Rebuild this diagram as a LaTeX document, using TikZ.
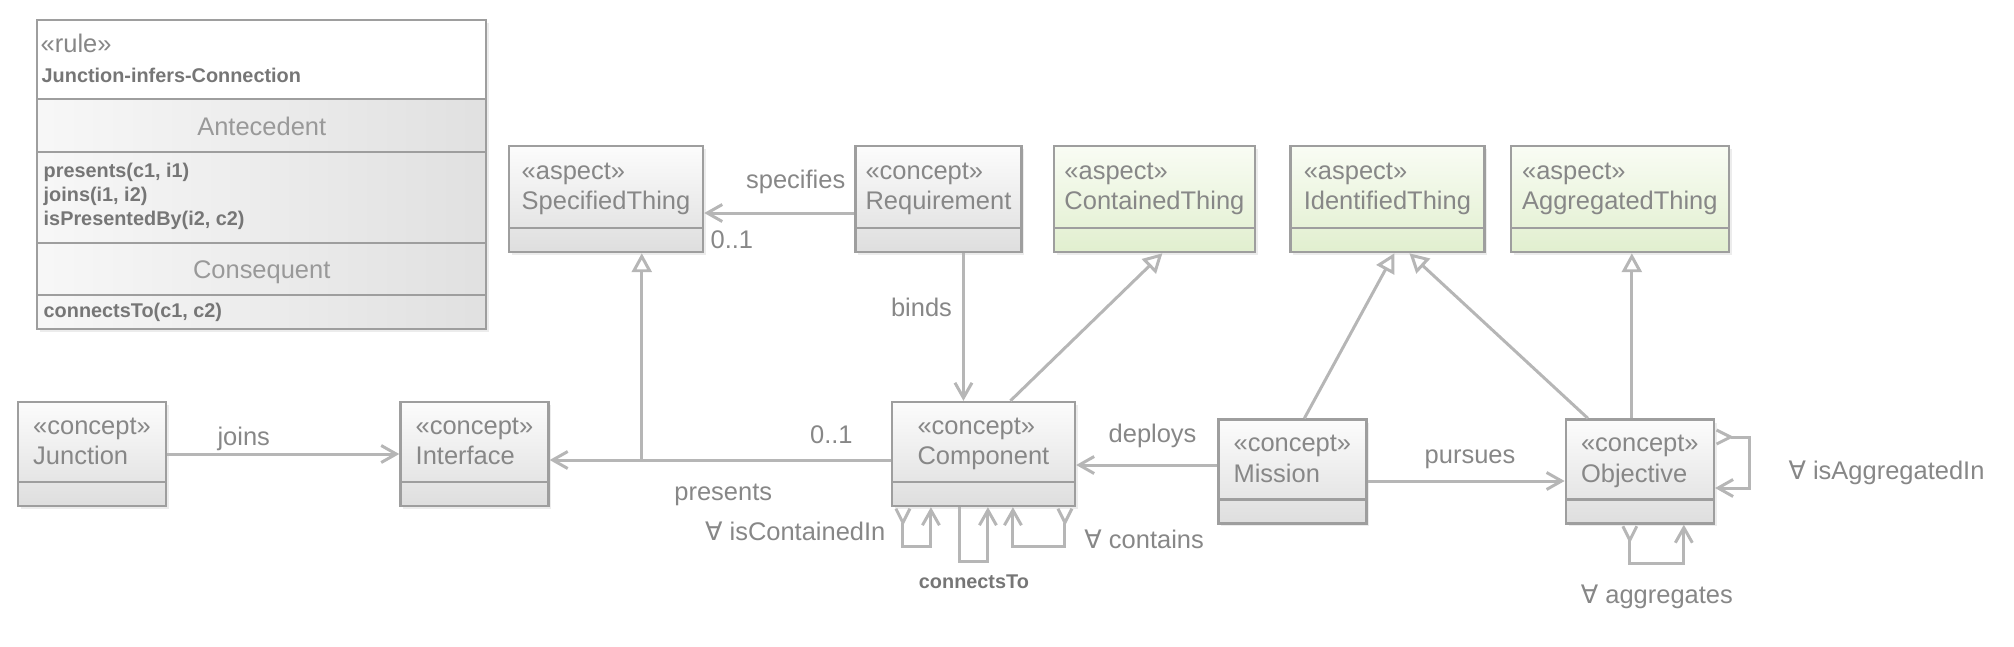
\documentclass[tikz,border=0pt]{standalone}
\usepackage{fontspec}
\setmainfont{Liberation Sans}
\newfontfamily\djvfont{DejaVu Sans}
\usepackage{xcolor}
\usepackage{tikz}
\usetikzlibrary{positioning,arrows.meta,shadows}
\definecolor{lnc}{RGB}{182,182,182}
\definecolor{bdc}{RGB}{158,158,158}
\definecolor{txc}{RGB}{135,135,135}
\definecolor{txd}{RGB}{118,118,118}
\definecolor{grtop}{RGB}{252,252,252}
\definecolor{grbot}{RGB}{222,222,222}
\definecolor{gntop}{RGB}{249,252,244}
\definecolor{gnbot}{RGB}{225,239,207}
\newcommand{\stereo}[2]{\rule{0pt}{0.27cm}«#1»\\#2\rule[-0.36cm]{0pt}{0pt}}
\newcommand{\fasym}{{\djvfont ∀}}
\tikzset{
  cls/.style={draw=bdc, line width=0.7pt, top color=grtop, bottom color=grbot, align=left, text=txc,
    font=\fontsize{7.25}{8.8}\selectfont, inner xsep=0.08cm, inner ysep=0.05cm,
    drop shadow={shadow xshift=0.03cm, shadow yshift=-0.03cm, opacity=0.15},
    path picture={\draw[bdc, line width=0.7pt] ([yshift=0.24cm]path picture bounding box.south west) -- ([yshift=0.24cm]path picture bounding box.south east);}},
  asp/.style={cls, top color=gntop, bottom color=gnbot},
  lbl/.style={font=\fontsize{7.25}{8.8}\selectfont, text=txc, inner sep=0pt},
  blbl/.style={font=\fontsize{5.65}{6.8}\selectfont\bfseries, text=txd, inner sep=0pt},
  assoc/.style={draw=lnc, line width=0.85pt, -{Straight Barb[length=0.15cm, width=0.17cm]}},
  gen/.style={draw=lnc, line width=0.85pt, -{Triangle[open, length=0.19cm, width=0.2cm, fill=white]}},
  selfref/.style={assoc, {Straight Barb[reversed, length=0.14cm, width=0.14cm]}-{Straight Barb[length=0.15cm, width=0.17cm]}},
  sepl/.style={draw=bdc, line width=0.7pt},
}
\begin{document}
\begin{tikzpicture}
  \useasboundingbox (0,0) rectangle (20.14,-6.46);
  % rule table
  \node[draw=bdc, line width=0.7pt, fill=white, anchor=north west, minimum width=4.49cm, minimum height=3.09cm, inner sep=0pt,
    drop shadow={shadow xshift=0.03cm, shadow yshift=-0.03cm, opacity=0.15},
    path picture={\shade[left color=black!3, right color=black!12] ([yshift=-0.8cm]path picture bounding box.north west) rectangle (path picture bounding box.south east);}] (rule) at (0.36,-0.19) {};
  \foreach \yy in {0.80,1.33,2.24,2.76}{\draw[sepl] ([yshift=-\yy cm]rule.north west) -- ([yshift=-\yy cm]rule.north east);}
  \node[lbl, anchor=base west] (rulest) at ([shift={(0.04,-0.33)}]rule.north west) {«rule»};
  \node[blbl, anchor=base west] (rulenm) at ([shift={(0.05,-0.63)}]rule.north west) {Junction-infers-Connection};
  \node[lbl, text=txc!85, anchor=base] (antehd) at ([yshift=-1.16cm]rule.north) {Antecedent};
  \foreach \txt [count=\i] in {{presents(c1, i1)},{joins(i1, i2)},{isPresentedBy(i2, c2)}}
    \node[blbl, anchor=base west] (ante\i) at ([shift={(0.07,-1.34-0.24*\i)}]rule.north west) {\txt};
  \node[lbl, text=txc!85, anchor=base] (conshd) at ([yshift=-2.59cm]rule.north) {Consequent};
  \node[blbl, anchor=base west] (cons1) at ([shift={(0.07,-2.98)}]rule.north west) {connectsTo(c1, c2)};

  % top row
  \node[cls, minimum width=1.94cm, minimum height=1.06cm] (spec) at (6.06,-1.99) {\stereo{aspect}{SpecifiedThing}};
  \node[cls, minimum width=1.66cm, minimum height=1.06cm, right=1.50cm of spec] (req) {\stereo{concept}{Requirement}};
  \node[asp, minimum width=2.01cm, minimum height=1.06cm, right=0.30cm of req] (cont) {\stereo{aspect}{ContainedThing}};
  \node[asp, minimum width=1.94cm, minimum height=1.06cm, right=0.33cm of cont] (ident) {\stereo{aspect}{IdentifiedThing}};
  \node[asp, minimum width=2.18cm, minimum height=1.06cm, right=0.24cm of ident] (aggr) {\stereo{aspect}{AggregatedThing}};

  % bottom row
  \node[cls, minimum width=1.48cm] (jn) at (0.92,-4.54) {\stereo{concept}{Junction}};
  \node[cls, minimum width=1.48cm, right=2.32cm of jn] (itf) {\stereo{concept}{Interface}};
  \node[cls, minimum width=1.83cm, right=3.41cm of itf] (cmp) {\stereo{concept}{Component}};
  \node[cls, minimum width=1.48cm, right=1.41cm of cmp, yshift=-0.175cm] (msn) {\stereo{concept}{Mission}};
  \node[cls, minimum width=1.48cm, right=1.97cm of msn] (obj) {\stereo{concept}{Objective}};

  % associations
  \draw[assoc] (jn) -- (itf) node[lbl, pos=0.33, anchor=base, yshift=0.09cm] (joinslbl) {joins};
  \draw[assoc] ([yshift=-0.14cm]req.west) -- ([yshift=-0.14cm]spec.east)
    node[lbl, pos=0.39, anchor=base, yshift=0.25cm] (speclbl) {specifies}
    node[lbl, pos=0.816, anchor=base, yshift=-0.35cm] (mult1) {0..1};
  \draw[assoc] ([yshift=-0.06cm]cmp.west) -- ([yshift=-0.06cm]itf.east)
    node[lbl, pos=0.174, anchor=base, yshift=0.17cm] (mult2) {0..1}
    node[lbl, pos=0.491, anchor=base, yshift=-0.40cm] (preslbl) {presents}
    coordinate[pos=0.73] (pj);
  \draw[assoc] ([xshift=0.25cm]req.south) -- ([xshift=0.25cm]req.south |- cmp.north)
    node[lbl, pos=0.43, anchor=base east, xshift=-0.1cm] (bindslbl) {binds};
  \draw[assoc] ([yshift=0.065cm]msn.west) -- ([yshift=0.065cm]msn.west -| cmp.east)
    node[lbl, pos=0.458, anchor=base, yshift=0.23cm] (deplbl) {deploys};
  \draw[assoc] ([yshift=-0.095cm]msn.east) -- ([yshift=-0.095cm]msn.east -| obj.west)
    node[lbl, pos=0.52, anchor=base, yshift=0.18cm] (purlbl) {pursues};

  % generalizations
  \draw[gen] (pj) -- (pj |- spec.south);
  \foreach \src/\sx/\dst/\dx in {cmp/0.27/cont/0.08, msn/0.12/ident/0.07, obj/-0.52/ident/0.22}
    \draw[gen] ([xshift=\sx cm]\src.north) -- ([xshift=\dx cm]\dst.south);
  \draw[gen] ([xshift=-0.08cm]obj.north) -- ([xshift=-0.08cm]obj.north |- aggr.south);

  % self loops
  \draw[selfref] ([xshift=-0.805cm]cmp.south) -- ++(0,-0.39)
    node[lbl, pos=0.85, anchor=base east, xshift=-0.16cm] (cinlbl) {\fasym{} isContainedIn}
    -| ([xshift=-0.525cm]cmp.south);
  \draw[assoc] ([xshift=-0.235cm]cmp.south) -- ++(0,-0.54) -| ([xshift=0.045cm]cmp.south)
    node[blbl, pos=0.25, anchor=base, yshift=-0.27cm] (ctlbl) {connectsTo};
  \draw[selfref] ([xshift=0.815cm]cmp.south) -- ++(0,-0.39)
    node[lbl, pos=1, anchor=base west, xshift=0.18cm, yshift=-0.02cm] (contlbl) {\fasym{} contains}
    -| ([xshift=0.295cm]cmp.south);
  \draw[selfref] ([xshift=-0.10cm]obj.south) -- ++(0,-0.39) -| ([xshift=0.44cm]obj.south)
    node[lbl, pos=0.25, anchor=base, yshift=-0.40cm] (agglbl) {\fasym{} aggregates};
  \draw[selfref] ([yshift=0.345cm]obj.east) -- ++(0.34,0) |- ([yshift=-0.165cm]obj.east)
    node[lbl, pos=0.25, anchor=base west, xshift=0.38cm, yshift=-0.17cm] (ainlbl) {\fasym{} isAggregatedIn};
\end{tikzpicture}
\end{document}
